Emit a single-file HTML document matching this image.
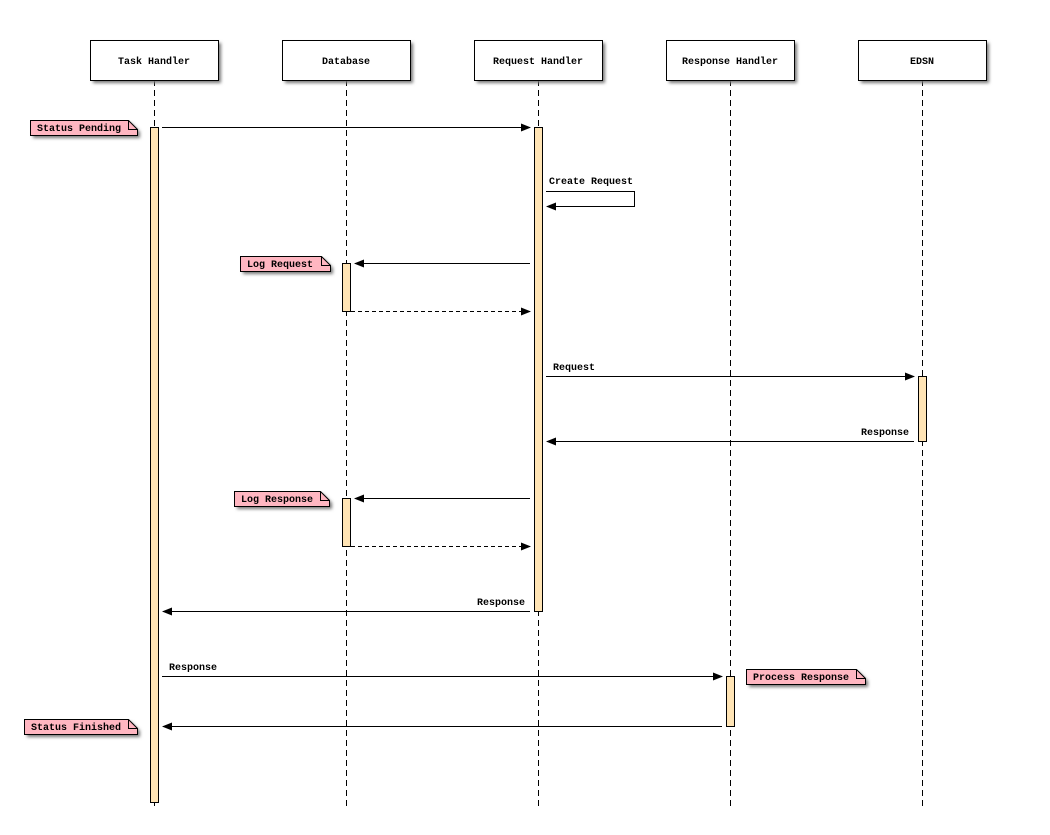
<!DOCTYPE html>
<html><head><meta charset="utf-8"><style>
html,body{margin:0;padding:0;background:#fff;}
svg text{font-family:"Liberation Mono",monospace;font-weight:bold;font-size:10px;fill:#000;}
</style></head><body>
<svg width="1050" height="830" xmlns="http://www.w3.org/2000/svg">
<defs>
<filter id="sh" x="-20%" y="-20%" width="150%" height="170%"><feGaussianBlur stdDeviation="1.5"/></filter>
<marker id="ah" markerWidth="10" markerHeight="8" refX="9" refY="4" orient="auto" markerUnits="userSpaceOnUse"><path d="M0,0 L10,4 L0,8 Z" fill="#000"/></marker>
</defs>
<g stroke="#000" stroke-dasharray="6,4" stroke-width="1" shape-rendering="crispEdges">
<line x1="154.5" y1="80" x2="154.5" y2="810"/>
<line x1="346.5" y1="80" x2="346.5" y2="810"/>
<line x1="538.5" y1="80" x2="538.5" y2="810"/>
<line x1="730.5" y1="80" x2="730.5" y2="810"/>
<line x1="922.5" y1="80" x2="922.5" y2="810"/>
</g>
<g>
<rect x="93" y="43" width="128" height="40" fill="#777" filter="url(#sh)"/>
<rect x="90.5" y="40.5" width="128" height="40" fill="#fff" stroke="#000"/>
<rect x="285" y="43" width="128" height="40" fill="#777" filter="url(#sh)"/>
<rect x="282.5" y="40.5" width="128" height="40" fill="#fff" stroke="#000"/>
<rect x="477" y="43" width="128" height="40" fill="#777" filter="url(#sh)"/>
<rect x="474.5" y="40.5" width="128" height="40" fill="#fff" stroke="#000"/>
<rect x="669" y="43" width="128" height="40" fill="#777" filter="url(#sh)"/>
<rect x="666.5" y="40.5" width="128" height="40" fill="#fff" stroke="#000"/>
<rect x="861" y="43" width="128" height="40" fill="#777" filter="url(#sh)"/>
<rect x="858.5" y="40.5" width="128" height="40" fill="#fff" stroke="#000"/>
</g>
<g text-anchor="middle">
<text x="154" y="64">Task Handler</text>
<text x="346" y="64">Database</text>
<text x="538" y="64">Request Handler</text>
<text x="730" y="64">Response Handler</text>
<text x="922" y="64">EDSN</text>
</g>
<g fill="#ffe4b5" stroke="#000">
<rect x="150.5" y="127.5" width="8" height="675"/>
<rect x="534.5" y="127.5" width="8" height="484"/>
<rect x="342.5" y="263.5" width="8" height="48"/>
<rect x="342.5" y="498.5" width="8" height="48"/>
<rect x="918.5" y="376.5" width="8" height="65"/>
<rect x="726.5" y="676.5" width="8" height="50"/>
</g>
<g stroke="#000" fill="none" marker-end="url(#ah)">
<line x1="162" y1="127.5" x2="530" y2="127.5"/>
<polyline points="546,191.5 634.5,191.5 634.5,206.5 547,206.5"/>
<line x1="530" y1="263.5" x2="355" y2="263.5"/>
<line x1="351" y1="311.5" x2="530" y2="311.5" stroke-dasharray="4,3"/>
<line x1="546" y1="376.5" x2="914" y2="376.5"/>
<line x1="914" y1="441.5" x2="547" y2="441.5"/>
<line x1="530" y1="498.5" x2="355" y2="498.5"/>
<line x1="351" y1="546.5" x2="530" y2="546.5" stroke-dasharray="4,3"/>
<line x1="530" y1="611.5" x2="163" y2="611.5"/>
<line x1="162" y1="676.5" x2="722" y2="676.5"/>
<line x1="722" y1="726.5" x2="163" y2="726.5"/>
</g>
<text x="549" y="184">Create Request</text>
<text x="553" y="370">Request</text>
<text x="909" y="435" text-anchor="end">Response</text>
<text x="525" y="605" text-anchor="end">Response</text>
<text x="169" y="670">Response</text>
<g>
<path d="M33,123 H131 L140,132 V138 H33 Z" fill="#777" filter="url(#sh)"/>
<path d="M30.5,120.5 H128.5 L137.5,129.5 V135.5 H30.5 Z" fill="#ffb6c1" stroke="#000"/>
<path d="M128.5,120.5 V129.5 H137.5" fill="none" stroke="#000"/>
<path d="M243,259 H324 L333,268 V274 H243 Z" fill="#777" filter="url(#sh)"/>
<path d="M240.5,256.5 H321.5 L330.5,265.5 V271.5 H240.5 Z" fill="#ffb6c1" stroke="#000"/>
<path d="M321.5,256.5 V265.5 H330.5" fill="none" stroke="#000"/>
<path d="M237,494 H323 L332,503 V509 H237 Z" fill="#777" filter="url(#sh)"/>
<path d="M234.5,491.5 H320.5 L329.5,500.5 V506.5 H234.5 Z" fill="#ffb6c1" stroke="#000"/>
<path d="M320.5,491.5 V500.5 H329.5" fill="none" stroke="#000"/>
<path d="M749,672 H859 L868,681 V687 H749 Z" fill="#777" filter="url(#sh)"/>
<path d="M746.5,669.5 H856.5 L865.5,678.5 V684.5 H746.5 Z" fill="#ffb6c1" stroke="#000"/>
<path d="M856.5,669.5 V678.5 H865.5" fill="none" stroke="#000"/>
<path d="M27,722 H131 L140,731 V737 H27 Z" fill="#777" filter="url(#sh)"/>
<path d="M24.5,719.5 H128.5 L137.5,728.5 V734.5 H24.5 Z" fill="#ffb6c1" stroke="#000"/>
<path d="M128.5,719.5 V728.5 H137.5" fill="none" stroke="#000"/>
</g>
<text x="37" y="131">Status Pending</text>
<text x="247" y="267">Log Request</text>
<text x="241" y="502">Log Response</text>
<text x="753" y="680">Process Response</text>
<text x="31" y="730">Status Finished</text>
</svg>
</body></html>
